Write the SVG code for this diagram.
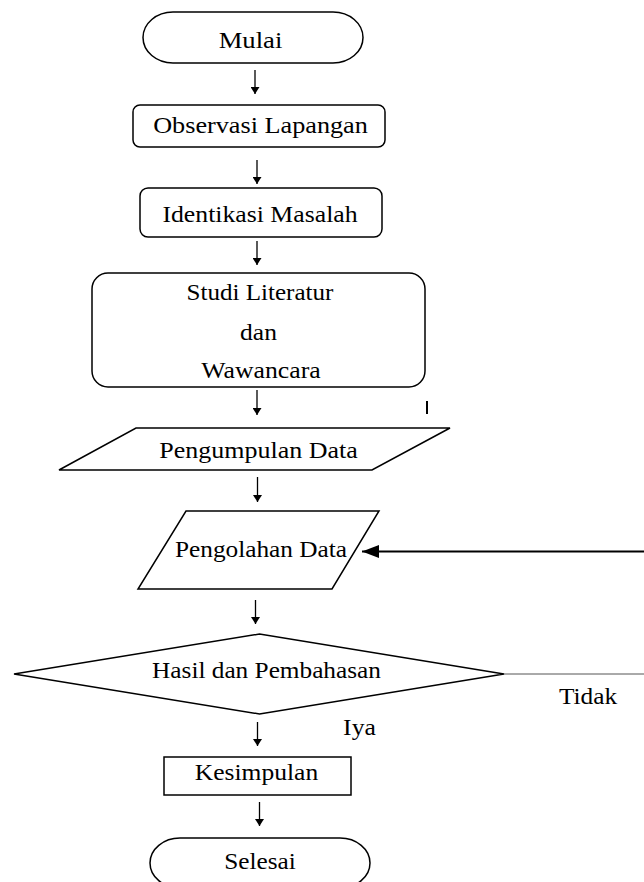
<svg xmlns="http://www.w3.org/2000/svg" width="644" height="882" viewBox="0 0 644 882">
<style>
.shape{fill:#fff;stroke:#000;stroke-width:1.5}
.lbl{font-family:"Liberation Serif","Times New Roman",serif;font-size:23px;fill:#000;text-anchor:middle}
.con{stroke:#000;stroke-width:1.3;fill:none}
</style>
<defs>
<marker id="ah" viewBox="0 0 10 10" refX="10" refY="5" markerWidth="7" markerHeight="9" markerUnits="userSpaceOnUse" orient="auto-start-reverse" preserveAspectRatio="none">
<path d="M0,0 L10,5 L0,10 Z" fill="#000"/>
</marker>
<marker id="ahBig" viewBox="0 0 10 10" refX="10" refY="5" markerWidth="17" markerHeight="13" markerUnits="userSpaceOnUse" orient="auto" preserveAspectRatio="none">
<path d="M0,0 L10,5 L0,10 Z" fill="#000"/>
</marker>
</defs>
<rect width="644" height="882" fill="#fff"/>

<g id="connectors">
<line class="con" x1="255" y1="70" x2="255" y2="94" marker-end="url(#ah)"/>
<line class="con" x1="257" y1="160" x2="257" y2="184" marker-end="url(#ah)"/>
<line class="con" x1="257" y1="241" x2="257" y2="265" marker-end="url(#ah)"/>
<line class="con" x1="257" y1="390" x2="257" y2="415" marker-end="url(#ah)"/>
<line class="con" x1="257.5" y1="477" x2="257.5" y2="502" marker-end="url(#ah)"/>
<line class="con" x1="255.5" y1="600" x2="255.5" y2="624" marker-end="url(#ah)"/>
<line class="con" x1="257.5" y1="722" x2="257.5" y2="746" marker-end="url(#ah)"/>
<line class="con" x1="259.5" y1="802" x2="259.5" y2="826" marker-end="url(#ah)"/>
<line x1="504" y1="674" x2="644" y2="674" stroke="#555" stroke-width="1"/>
<line x1="644" y1="551.5" x2="362" y2="551.5" stroke="#000" stroke-width="2" marker-end="url(#ahBig)"/>
<text class="lbl" transform="translate(588,704) scale(1.1,1)">Tidak</text>
<text class="lbl" transform="translate(359.5,735) scale(1.12,1)">Iya</text>
</g>

<g id="mark">
<line x1="427" y1="401" x2="427" y2="414" stroke="#000" stroke-width="2"/>
</g>

<g id="mulai">
<rect class="shape" x="143" y="12" width="220" height="51" rx="30" ry="25.5"/>
<text class="lbl" transform="translate(250.5,48) scale(1.16,1)">Mulai</text>
</g>

<g id="observasi">
<rect class="shape" x="133" y="105" width="252" height="42" rx="7"/>
<text class="lbl" transform="translate(260.5,133) scale(1.14,1)">Observasi Lapangan</text>
</g>

<g id="identikasi">
<rect class="shape" x="140" y="188" width="242" height="49" rx="8"/>
<text class="lbl" transform="translate(260,222) scale(1.12,1)">Identikasi Masalah</text>
</g>

<g id="studi">
<rect class="shape" x="92" y="273" width="333" height="114" rx="16"/>
<text class="lbl" transform="translate(260,300) scale(1.09,1)">Studi Literatur</text>
<text class="lbl" transform="translate(258.5,340) scale(1.11,1)">dan</text>
<text class="lbl" transform="translate(261,378) scale(1.12,1)">Wawancara</text>
</g>

<g id="pengumpulan">
<polygon class="shape" points="136,428 450,428 372,470 59,470"/>
<text class="lbl" transform="translate(258.5,458) scale(1.13,1)">Pengumpulan Data</text>
</g>

<g id="pengolahan">
<polygon class="shape" points="186,511 379,511 332,589 138,589"/>
<text class="lbl" transform="translate(261,557) scale(1.1,1)">Pengolahan Data</text>
</g>

<g id="hasil">
<polygon class="shape" points="14,674 259.5,634 504,674 259.5,714"/>
<text class="lbl" transform="translate(266.5,678) scale(1.1,1)">Hasil dan Pembahasan</text>
</g>

<g id="kesimpulan">
<rect class="shape" x="164" y="757" width="187" height="38"/>
<text class="lbl" transform="translate(256.5,780) scale(1.11,1)">Kesimpulan</text>
</g>

<g id="selesai">
<rect class="shape" x="150" y="838" width="220" height="50" rx="30" ry="25"/>
<text class="lbl" transform="translate(260,869) scale(1.1,1)">Selesai</text>
</g>
</svg>
